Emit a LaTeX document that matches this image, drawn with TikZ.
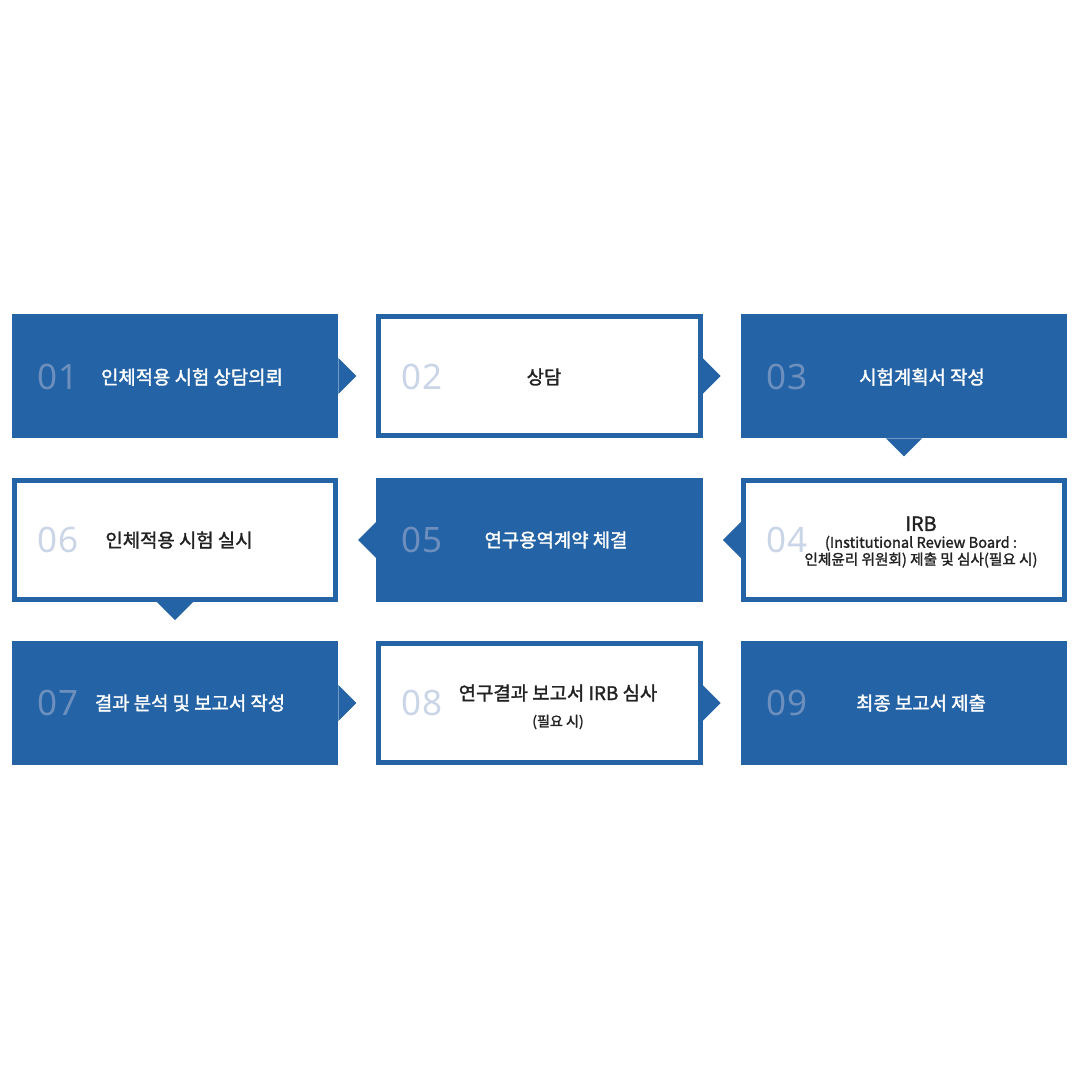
\documentclass[tikz,border=0pt]{standalone}
\usepackage{fontspec}
\setmainfont{Noto Sans CJK KR}
\newfontfamily\krmed{Noto Sans CJK KR}[FakeBold=1.6]
\newfontfamily\numfont{Noto Sans}
\usetikzlibrary{positioning}
\definecolor{stepblue}{RGB}{36, 99, 165}
\definecolor{numpale}{RGB}{108, 143, 190}
\definecolor{numlight}{RGB}{202, 214, 232}
\definecolor{textdark}{RGB}{34, 34, 34}

\tikzset{
    fullbox/.style={fill=stepblue, minimum width=8.15cm, minimum height=3.1cm, inner sep=0pt},
    linebox/.style={draw=stepblue, fill=white, line width=0.125cm, minimum width=8.025cm, minimum height=2.975cm, inner sep=0pt},
    numon/.style={text=numpale, font=\numfont\fontsize{24.9}{26}\selectfont, inner sep=0pt},
    numoff/.style={text=numlight, font=\numfont\fontsize{24.9}{26}\selectfont, inner sep=0pt},
    labon/.style={text=white, font=\krmed\fontsize{13.4}{15}\selectfont, inner sep=0pt},
    laboff/.style={text=textdark, font=\krmed\fontsize{13.4}{15}\selectfont, inner sep=0pt, align=center},
    small/.style={font=\krmed\fontsize{10}{13.2}\selectfont}
}

\begin{document}
\begin{tikzpicture}[x=0.025cm, y=-0.025cm]
    \useasboundingbox[fill=white] (0,0) rectangle (1080,1080);
    % Row 1
    \node[fullbox] (s1) at (175,376) {};
    \node[linebox] (s2) at (539.5,376) {};
    \node[fullbox] (s3) at (904,376) {};
    % Row 2
    \node[linebox] (s6) at (175,540) {};
    \node[fullbox] (s5) at (539.5,540) {};
    \node[linebox] (s4) at (904,540) {};
    % Row 3
    \node[fullbox] (s7) at (175,703) {};
    \node[linebox] (s8) at (539.5,703) {};
    \node[fullbox] (s9) at (904,703) {};
    % Pointers
    \foreach \s in {s1, s2, s7, s8} {
        \fill[stepblue] ([yshift=0.45cm]\s.east) -- ++(0.45cm,-0.45cm) -- ++(-0.45cm,-0.45cm) -- cycle;
    }
    \foreach \s in {s4, s5} {
        \fill[stepblue] ([yshift=0.45cm]\s.west) -- ++(-0.45cm,-0.45cm) -- ++(0.45cm,-0.45cm) -- cycle;
    }
    \foreach \s in {s3, s6} {
        \fill[stepblue] ([xshift=-0.45cm]\s.south) -- ++(0.45cm,-0.45cm) -- ++(0.45cm,0.45cm) -- cycle;
    }
    % Numbers
    \foreach \n/\x/\y/\st in {01/58/377/numon, 02/422/377/numoff, 03/787/377/numon,
                              06/58/540/numoff, 05/422/540/numon, 04/787/540/numoff,
                              07/58/703/numon, 08/422/703/numoff, 09/787/703/numon} {
        \node[\st] (n\n) at (\x,\y) {\n};
    }
    % Labels
    \node[labon] (l1) at (192,377) {인체적용 시험 상담의뢰};
    \node[laboff] (l2) at (544,377) {상담};
    \node[labon] (l3) at (922,377) {시험계획서 작성};
    \node[laboff] (l4) at (921,542) {{\fontsize{14}{15}\selectfont IRB}\\[-3pt]{\fontsize{10.4}{13.2}\selectfont (Institutional Review Board :}\\[-3pt]{\fontsize{10.4}{13.2}\selectfont 인체윤리 위원회) 제출 및 심사(필요 시)}};
    \node[labon] (l5) at (556,540) {연구용역계약 체결};
    \node[laboff] (l6) at (179,540) {인체적용 시험 실시};
    \node[labon] (l7) at (190,703) {결과 분석 및 보고서 작성};
    \node[laboff] (l8) at (558,693) {연구결과 보고서 IRB 심사};
    \node[laboff, small] (l8b) at (558,722) {(필요 시)};
    \node[labon] (l9) at (921,703) {최종 보고서 제출};
\end{tikzpicture}
\end{document}
